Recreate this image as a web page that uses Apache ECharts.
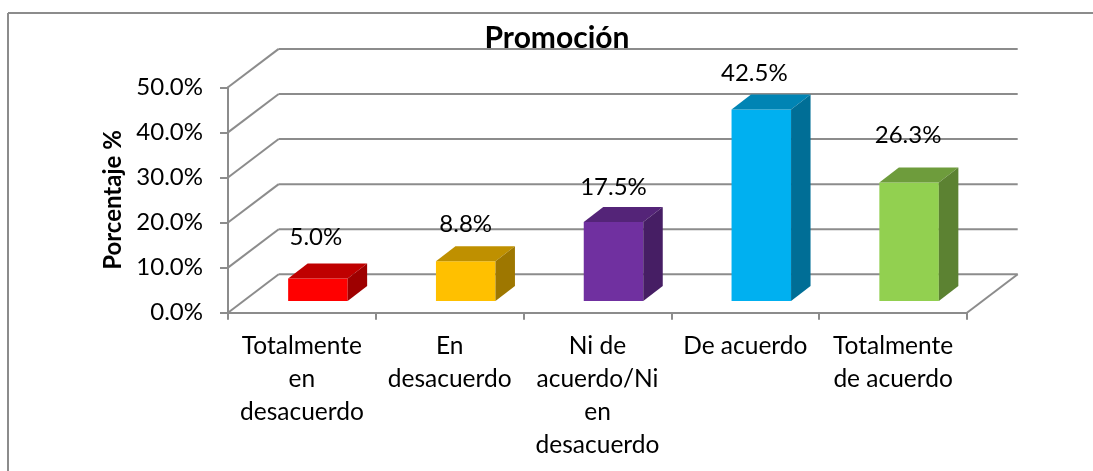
<!DOCTYPE html>
<html><head><meta charset="utf-8">
<style>html,body{margin:0;padding:0;background:#fff}#c{width:1093px;height:471px}</style>
<script src="https://cdn.jsdelivr.net/npm/echarts@6/dist/echarts.min.js"></script></head>
<body><div id="c"></div>
<script>
const categories = ['Totalmente\nen\ndesacuerdo','En\ndesacuerdo','Ni de\nacuerdo/Ni\nen\ndesacuerdo','De acuerdo','Totalmente\nde acuerdo'];
const values = [5.0, 8.8, 17.5, 42.5, 26.3];
const yTicks = [0, 10, 20, 30, 40, 50];
const frontColors = ['#FF0000','#FFC000','#7030A0','#00B0F0','#92D050'];
const topColors = ['#BF0000','#BF9000','#542478','#0084B4','#6E9C3C'];
const sideColors = ['#9E0000','#9E7700','#461E64','#006E96','#5C8232'];
// label placement tweak relative to the bar top (Excel's own 3D label layout)
const labelShiftX = [-2, 0, 0, -7, -1];
const labelShiftY = [-41, -37, -35, -36, -47];
const FONT = 'Lato, sans-serif', GRID = '#8C8C8C';
const WALL_DX = 50.7, WALL_DY = 38.4, BAR_W = 59.5, BAR_DX = 19.5, BAR_DY = 15, INSET_DX = 16, INSET_DY = 11.7;

const chart = echarts.init(document.getElementById('c'), null, {renderer:'canvas'});
const ln = (x1,y1,x2,y2,w) => ({type:'line',shape:{x1,y1,x2,y2},style:{stroke:GRID,lineWidth:w}});
const poly = (points,fill) => ({type:'polygon',shape:{points},style:{fill}});

chart.setOption({
  animation:false,
  backgroundColor:'#fff',
  title:{text:'Promoción',left:552,top:18,textAlign:'center',
    textStyle:{fontFamily:FONT,fontSize:30,fontWeight:'bold',color:'#000'}},
  grid:{left:228,right:126,top:87.3,bottom:158.3},
  xAxis:{type:'category',data:categories,
    axisLine:{lineStyle:{color:GRID,width:2}},
    axisTick:{show:true,length:7,lineStyle:{color:GRID,width:2}},
    axisLabel:{fontFamily:FONT,fontSize:24.5,color:'#000',lineHeight:33,margin:17,interval:0}},
  yAxis:{type:'value',min:0,max:50,interval:10,
    name:'Porcentaje %',nameLocation:'middle',nameGap:102,nameRotate:90,
    nameTextStyle:{fontFamily:FONT,fontSize:24,fontWeight:'bold',color:'#000'},
    splitLine:{show:false},
    axisLine:{show:true,lineStyle:{color:GRID,width:2}},
    axisTick:{show:true,length:8,lineStyle:{color:GRID,width:2}},
    axisLabel:{fontFamily:FONT,fontSize:24,color:'#000',margin:25,formatter:v=>v.toFixed(1)+'%'}},
  graphic:[
    {type:'line',shape:{x1:8,y1:13,x2:1093,y2:13},style:{stroke:'#8C8C8C',lineWidth:2},silent:true},
    {type:'line',shape:{x1:8,y1:13,x2:8,y2:471},style:{stroke:'#8C8C8C',lineWidth:2},silent:true}
  ],
  series:[
    {type:'custom',coordinateSystem:'cartesian2d',silent:true,z:1,
     data:yTicks.map(v=>[0,v]),
     renderItem(params,api){
       const g=params.coordSys, y=api.coord([0,api.value(1)])[1];
       const kids=[ln(g.x,y,g.x+WALL_DX,y-WALL_DY,2),
                   ln(g.x+WALL_DX,y-WALL_DY,g.x+g.width+WALL_DX,y-WALL_DY,2)];
       if(api.value(1)===0) kids.push(ln(g.x+g.width,y,g.x+g.width+WALL_DX,y-WALL_DY,2));
       return {type:'group',children:kids};
     }},
    {type:'custom',coordinateSystem:'cartesian2d',silent:true,z:3,
     data:values.map((v,i)=>[i,v]),
     renderItem(params,api){
       const i=api.value(0), c=api.coord([i,api.value(1)]), b=api.coord([i,0]);
       const x0=c[0]-BAR_W/2+INSET_DX, x1=x0+BAR_W, t=c[1]-INSET_DY, bt=b[1]-INSET_DY;
       const txt=api.value(1).toFixed(1)+'%';
       return {type:'group',children:[
         poly([[x0,bt],[x1,bt],[x1,t],[x0,t]],frontColors[i]),
         poly([[x0,t],[x1,t],[x1+BAR_DX,t-BAR_DY],[x0+BAR_DX,t-BAR_DY]],topColors[i]),
         poly([[x1,bt],[x1+BAR_DX,bt-BAR_DY],[x1+BAR_DX,t-BAR_DY],[x1,t]],sideColors[i]),
         {type:'text',x:(x0+x1)/2+labelShiftX[i],y:t+labelShiftY[i],
          style:{text:txt,align:'center',verticalAlign:'middle',fontFamily:FONT,fontSize:24,fill:'#000'}}
       ]};
     }}
  ]
});
</script></body></html>
